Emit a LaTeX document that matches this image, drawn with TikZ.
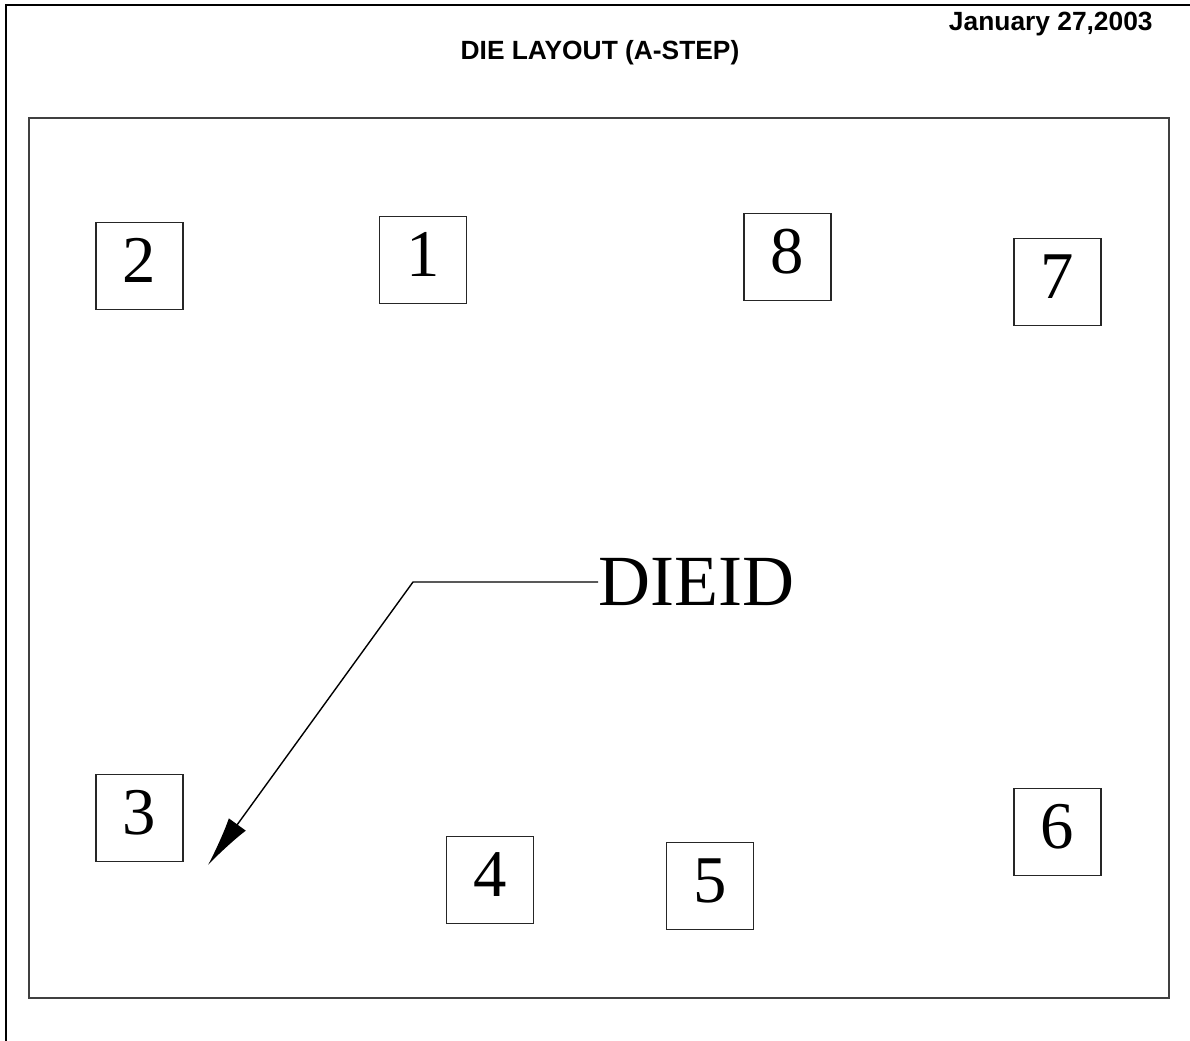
\documentclass[tikz,border=0pt]{standalone}
\usepackage{fontspec}
\setmainfont{Liberation Serif}
\newfontfamily\headfont{Liberation Sans}
\usetikzlibrary{arrows.meta}
\begin{document}
\begin{tikzpicture}[
  x=0.02cm, y=-0.02cm,
  die/.style={draw=black!85, line width=0.9pt, minimum size=1.74cm,
              inner sep=0pt, text height=0.9cm, text depth=0.25cm,
              font=\fontsize{38}{38}\selectfont},
  head/.style={font=\headfont\bfseries\fontsize{15}{16}\selectfont, inner sep=0pt},
  frame/.style={line width=1.2pt},
]
\useasboundingbox (0,0) rectangle (1190,1041);

% page frame and die outline
\draw[frame] (1190,5) -- (6,5) -- (6,1041);
\draw[frame, draw=black!75] (29,118) rectangle (1169,998);

\node[head, anchor=east] (date)  at (1153,24) {January 27,2003};
\node[head]              (title) at (600,53)  {DIE LAYOUT (A-STEP)};

% die pads
\node[die] (d2) at (139.5,266)  {2};
\node[die] (d1) at (423,260)    {1};
\node[die] (d8) at (787.5,257)  {8};
\node[die] (d7) at (1057.5,282) {7};
\node[die] (d3) at (139.5,818)  {3};
\node[die] (d4) at (490,880)    {4};
\node[die] (d5) at (710,886)    {5};
\node[die] (d6) at (1057.5,832) {6};

% die id callout
\node[anchor=west, inner sep=0pt, font=\fontsize{41}{41}\selectfont]
  (dieid) at (598,582) {DIEID};
\coordinate (bend) at (413,582);
\coordinate (tip)  at (208,865);
\draw[line width=0.8pt, -{Latex[length=1cm, width=0.42cm]}]
  (dieid.west) -- (bend) -- (tip);
\end{tikzpicture}
\end{document}
